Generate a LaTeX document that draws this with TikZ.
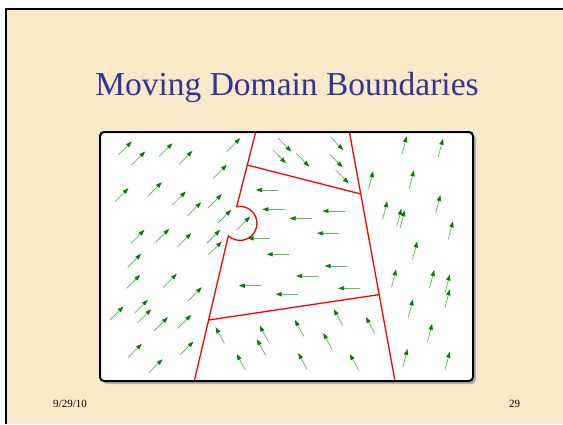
\documentclass[tikz,border=0pt]{standalone}
\usepackage{fontspec}
\setmainfont{Liberation Serif}
\usetikzlibrary{arrows.meta, calc}
\definecolor{slidebg}{HTML}{F8EAC8}
\definecolor{titleblue}{HTML}{333399}
\definecolor{shaftgreen}{HTML}{62BC62}
\definecolor{headgreen}{HTML}{008000}
\definecolor{wallred}{HTML}{FF0000}

\begin{document}
\begin{tikzpicture}[
    x=1bp, y=-1bp,
    wall/.style={draw=wallred, line width=1.3bp},
    flow/.style={draw=shaftgreen, line width=0.75bp, -{Triangle[length=6bp, width=4.2bp, color=headgreen]}},
    footer/.style={font=\fontsize{11bp}{13bp}\selectfont, anchor=base west, inner sep=0pt},
]
    \useasboundingbox (0,0) rectangle (563,424);

    % Slide
    \fill[white] (0,0) rectangle (563,424);
    \fill[slidebg] (6,9) rectangle (563,424);
    \draw[line width=2.6bp] (6,424) -- (6,9) -- (563,9);
    \node[font=\fontsize{33.5bp}{40bp}\selectfont, text=titleblue, anchor=base, inner sep=0pt] (title) at (287,95) {Moving Domain Boundaries};
    \node[footer] (date) at (53,407) {9/29/10};
    \node[footer] (page) at (509,407) {29};

    % Box
    \fill[black!30, rounded corners=4bp] (103,135) rectangle (476,384);
    \fill[white, rounded corners=4bp] (100,132) rectangle (473,381);

    % Domain 1 (left)
    \foreach \x/\y in {118.3/155, 131.7/165, 159/156.7, 179/164.3, 226.7/151.7, 213.3/178.3,
        115/201.7, 148.3/195.7, 172.3/205, 187.7/215.7, 208.3/207.7, 217.7/223.3, 236.7/230,
        131/243.3, 155.7/242.3, 177.7/246.7, 206.7/243.3, 208.3/255, 127.7/267.3, 126.7/288.3,
        163.3/287.3, 188.3/300.7, 110/320, 134.3/313.3, 137.7/322.7, 154.3/330.7, 177.7/328.3,
        128.3/357.3, 180/355, 149/372.7}
        \draw[flow] (\x,\y) -- ++(13.5,-13.5);

    % Domain 2 (top)
    \foreach \x/\y in {278.3/138.3, 272.9/150, 296.2/153.3, 330.3/136.7, 329.6/154, 335.7/170}
        \draw[flow] (\x,\y) -- ++(13,13.3);

    % Domain 3 (middle)
    \foreach \x/\y in {278.3/190, 284.7/209.3, 312/218.3, 344.7/211, 339.3/233.3, 270/238.3,
        289/254.3, 347/266, 318.4/276, 261.2/285.7, 298/294.3, 360.4/288.3}
        \draw[flow] (\x,\y) -- ++(-22.3,0);

    % Domain 4 (bottom)
    \foreach \x/\y in {224.4/343.5, 268.5/342, 265.7/355.5, 245.5/370.3, 303.7/336.3,
        342.6/325.5, 374.7/333.3, 332/349.3, 307/369.3, 358.6/370.3}
        \draw[flow] (\x,\y) -- ++(-8.8,-16.3);

    % Domain 5 (right)
    \foreach \x/\y in {402/154.2, 438.3/156.7, 368.5/189.2, 409.3/188.3, 382.6/219.2,
        396.7/226.7, 400/228.3, 435.7/213, 448.3/239.3, 412.5/259.5, 391.5/287.3, 429.5/288,
        445.1/292.5, 445.1/307.3, 408.3/317.3, 427.5/341.7, 402.8/367, 445.1/369.7}
        \draw[flow] (\x,\y) -- ++(4.7,-18);

    % Walls
    \coordinate (ltop) at (255.7,132);
    \coordinate (lbump) at (236.7,206.7);
    \coordinate (lbot) at (194.3,381);
    \coordinate (rtop) at (349.4,132);
    \coordinate (rbot) at (395,381);
    \draw[wall] (ltop) -- (lbump) arc[start angle=-101, end angle=133, radius=17] coordinate (lbend) -- (lbot);
    \draw[wall] (rtop) -- (rbot);
    \coordinate (ul) at ($(ltop)!0.442!(lbump)$);
    \coordinate (ur) at ($(rtop)!0.249!(rbot)$);
    \coordinate (ll) at ($(lbend)!0.58!(lbot)$);
    \coordinate (lr) at ($(rtop)!0.653!(rbot)$);
    \draw[wall] (ul) -- (ur);
    \draw[wall] (ll) -- (lr);

    % Frame
    \draw[line width=2bp, rounded corners=4bp] (100,132) rectangle (473,381);
\end{tikzpicture}
\end{document}
